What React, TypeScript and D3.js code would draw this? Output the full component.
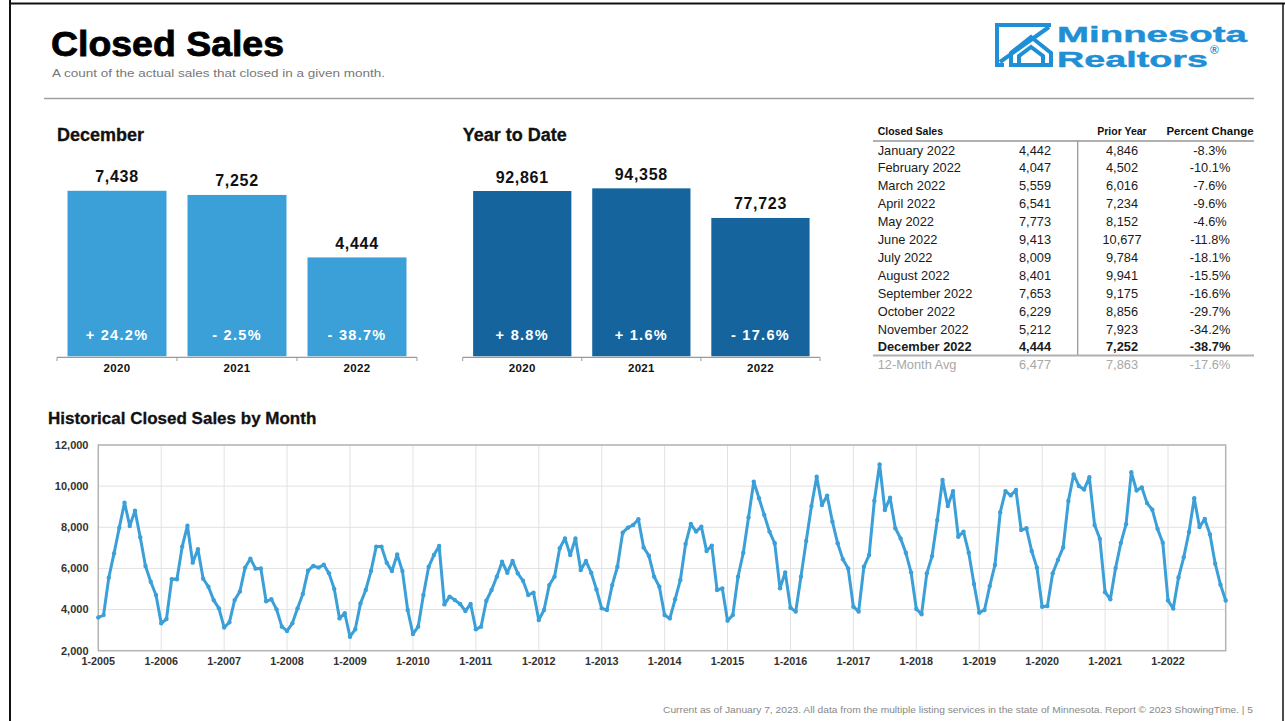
import React from 'react';
import * as d3 from 'd3';

const FONT = "'Liberation Sans', Arial, Helvetica, sans-serif";
const BLUE_LIGHT = '#3b9fd8';
const BLUE_DARK = '#15649e';
const LOGO_BLUE = '#1f8fd6';

// ---- bar panels ----
const barYears = ['2020', '2021', '2022'];
const decemberValues = [7438, 7252, 4444];
const decemberChanges = ['+ 24.2%', '- 2.5%', '- 38.7%'];
const ytdValues = [92861, 94358, 77723];
const ytdChanges = ['+ 8.8%', '+ 1.6%', '- 17.6%'];

// ---- table ----
const tableMonths = ['January 2022', 'February 2022', 'March 2022', 'April 2022', 'May 2022', 'June 2022', 'July 2022', 'August 2022', 'September 2022', 'October 2022', 'November 2022', 'December 2022'];
const tableCurrent = [4442, 4047, 5559, 6541, 7773, 9413, 8009, 8401, 7653, 6229, 5212, 4444];
const tablePrior = [4846, 4502, 6016, 7234, 8152, 10677, 9784, 9941, 9175, 8856, 7923, 7252];
const tablePercent = ['-8.3%', '-10.1%', '-7.6%', '-9.6%', '-4.6%', '-11.8%', '-18.1%', '-15.5%', '-16.6%', '-29.7%', '-34.2%', '-38.7%'];
const avgLabel = '12-Month Avg';
const avgCurrent = 6477;
const avgPrior = 7863;
const avgPercent = '-17.6%';

// ---- historical monthly closed sales ----
const historyStartYear = 2005;
const h2005 = [3620, 3730, 5550, 6730, 7980, 9200, 8060, 8810, 7510, 6120, 5350, 4710];
const h2006 = [3330, 3540, 5480, 5470, 7060, 8080, 6280, 6930, 5500, 5110, 4460, 4060];
const h2007 = [3130, 3380, 4460, 4880, 6040, 6470, 5990, 6000, 4400, 4500, 4010, 3170];
const h2008 = [2960, 3330, 4060, 4760, 5890, 6120, 6040, 6180, 5760, 5000, 3570, 3820];
const h2009 = [2680, 3040, 4300, 4950, 5870, 7060, 7060, 6280, 5870, 6680, 5870, 3980];
const h2010 = [2810, 3170, 4710, 6080, 6650, 7090, 4250, 4630, 4460, 4270, 3930, 4270];
const h2011 = [3040, 3170, 4430, 4950, 5600, 6330, 5790, 6360, 5760, 5400, 4710, 4820];
const h2012 = [3490, 3980, 5190, 5600, 6980, 7460, 6650, 7460, 5920, 6360, 5790, 4980];
const h2013 = [4060, 3980, 5190, 6080, 7740, 7980, 8110, 8390, 7020, 6620, 5600, 5110];
const h2014 = [3730, 3570, 4500, 5440, 7190, 8160, 7790, 8030, 6850, 7110, 4950, 5030];
const h2015 = [3460, 3730, 5600, 6760, 8480, 10220, 9410, 8600, 7790, 7220, 5030, 5810];
const h2016 = [4090, 3900, 5600, 7330, 9030, 10460, 9080, 9540, 8270, 7220, 6440, 6000];
const h2017 = [4140, 3900, 6080, 6650, 9290, 11060, 8840, 9440, 7950, 7460, 6760, 5810];
const h2018 = [4030, 3770, 5760, 6600, 8350, 10300, 9030, 9760, 7540, 7790, 6760, 5240];
const h2019 = [3850, 3980, 5140, 6170, 8730, 9760, 9550, 9810, 7870, 7950, 6850, 6040];
const h2020 = [4140, 4170, 5760, 6410, 7020, 9280, 10570, 10010, 9840, 10430, 8110, 7438];
const h2021 = tablePrior;
const h2022 = tableCurrent;
const historyValues = [
  ...h2005, ...h2006, ...h2007, ...h2008, ...h2009, ...h2010, ...h2011, ...h2012, ...h2013,
  ...h2014, ...h2015, ...h2016, ...h2017, ...h2018, ...h2019, ...h2020, ...h2021, ...h2022,
];
const historyYTicks = [2000, 4000, 6000, 8000, 10000, 12000];
const historyXTickYears = d3.range(2005, 2023);

const fmt = d3.format(',');

function BarPanel({ title, left, right, values, changes, yMax, color }: any) {
  const x = d3.scaleBand<string>().domain(barYears).range([left, right]).paddingInner(0.175).paddingOuter(0.0875);
  const y = d3.scaleLinear().domain([0, yMax]).range([356.3, 178.3]);
  const step = x.step();
  const bounds = [0, 1, 2, 3].map((i) => left + i * step);
  return (
    <g>
      <text x={left} y={141} fontFamily={FONT} fontWeight={700} fontSize={18} fill="#111" stroke="#111" strokeWidth={0.3}>{title}</text>
      {values.map((v: number, i: number) => {
        const bx = x(barYears[i])!;
        const cx = bx + x.bandwidth() / 2;
        return (
          <g key={i}>
            <rect x={bx} y={y(v)} width={x.bandwidth()} height={y(0) - y(v)} fill={color} />
            <text x={cx} y={y(v) - 8.5} textAnchor="middle" fontFamily={FONT} fontWeight={700} fontSize={16} letterSpacing={0.7} fill="#111">{fmt(v)}</text>
            <text x={cx} y={340} textAnchor="middle" fontFamily={FONT} fontWeight={700} fontSize={14.5} letterSpacing={1.3} fill="#fff">{changes[i]}</text>
            <text x={cx} y={372} textAnchor="middle" fontFamily={FONT} fontWeight={700} fontSize={11.5} letterSpacing={0.3} fill="#111">{barYears[i]}</text>
          </g>
        );
      })}
      <line x1={left} x2={right} y1={357.3} y2={357.3} stroke="#9a9a9a" strokeWidth={1.2} />
      {bounds.map((b, i) => (
        <line key={i} x1={b} x2={b} y1={357.3} y2={361} stroke="#9a9a9a" strokeWidth={1} />
      ))}
    </g>
  );
}

function SalesTable() {
  const rowY = (i: number) => 154.5 + i * 17.9;
  const c1 = 877.7, c2 = 1035, c3 = 1122, c4 = 1210;
  const base = { fontFamily: FONT, fontSize: 12.8, fill: '#1a1a1a' };
  return (
    <g>
      <text x={c1} y={135} fontFamily={FONT} fontWeight={700} fontSize={10.5} fill="#111">Closed Sales</text>
      <text x={c3} y={135} textAnchor="middle" fontFamily={FONT} fontWeight={700} fontSize={10.5} fill="#111">Prior Year</text>
      <text x={c4} y={135} textAnchor="middle" fontFamily={FONT} fontWeight={700} fontSize={10.5} fill="#111" textLength={87} lengthAdjust="spacingAndGlyphs">Percent Change</text>
      <line x1={873} x2={1254} y1={141} y2={141} stroke="#b0b0b0" strokeWidth={2} />
      <line x1={1077.7} x2={1077.7} y1={141} y2={355} stroke="#9a9a9a" strokeWidth={1.3} />
      {tableMonths.map((m, i) => {
        const bold = i === tableMonths.length - 1 ? 700 : 400;
        return (
          <g key={m}>
            <text x={c1} y={rowY(i)} {...base} fontWeight={bold}>{m}</text>
            <text x={c2} y={rowY(i)} textAnchor="middle" {...base} fontWeight={bold}>{fmt(tableCurrent[i])}</text>
            <text x={c3} y={rowY(i)} textAnchor="middle" {...base} fontWeight={bold}>{fmt(tablePrior[i])}</text>
            <text x={c4} y={rowY(i)} textAnchor="middle" {...base} fontWeight={bold}>{tablePercent[i]}</text>
          </g>
        );
      })}
      <line x1={873} x2={1254} y1={355.5} y2={355.5} stroke="#b0b0b0" strokeWidth={2} />
      <g fill="#a8a8a8" fontFamily={FONT} fontSize={12.8}>
        <text x={c1} y={369}>{avgLabel}</text>
        <text x={c2} y={369} textAnchor="middle">{fmt(avgCurrent)}</text>
        <text x={c3} y={369} textAnchor="middle">{fmt(avgPrior)}</text>
        <text x={c4} y={369} textAnchor="middle">{avgPercent}</text>
      </g>
    </g>
  );
}

function HistoryChart() {
  const x0 = 98.3, x1 = 1225.7, yTop = 445, yBot = 650.7;
  const x = d3.scaleLinear().domain([0, historyValues.length - 1]).range([x0, x1]);
  const y = d3.scaleLinear().domain([2000, 12000]).range([yBot, yTop]);
  const line = d3.line<number>().x((_, i) => x(i)).y((d) => y(d));
  return (
    <g>
      <text x={48} y={424} fontFamily={FONT} fontWeight={700} fontSize={17} fill="#111" stroke="#111" strokeWidth={0.3}>Historical Closed Sales by Month</text>
      <rect x={x0} y={yTop} width={x1 - x0} height={yBot - yTop} fill="#fff" />
      {historyYTicks.map((t) => (
        <g key={t}>
          <line x1={x0} x2={x1} y1={y(t)} y2={y(t)} stroke="#e2e2e2" strokeWidth={1} />
          <text x={88.5} y={y(t) + 3.8} textAnchor="end" fontFamily={FONT} fontWeight={700} fontSize={11} fill="#333">{fmt(t)}</text>
        </g>
      ))}
      {historyXTickYears.map((yr) => {
        const xi = x((yr - historyStartYear) * 12);
        return (
          <g key={yr}>
            <line x1={xi} x2={xi} y1={yTop} y2={yBot} stroke="#e2e2e2" strokeWidth={1} />
            <text x={xi} y={665} textAnchor="middle" fontFamily={FONT} fontWeight={700} fontSize={10.8} fill="#333">{`1-${yr}`}</text>
          </g>
        );
      })}
      <rect x={x0} y={yTop} width={x1 - x0} height={yBot - yTop} fill="none" stroke="#b4b4b4" strokeWidth={1.5} />
      <path d={line(historyValues) || ''} fill="none" stroke={BLUE_LIGHT} strokeWidth={3} strokeLinejoin="round" />
      {historyValues.map((v, i) => (
        <circle key={i} cx={x(i)} cy={y(v)} r={2.2} fill={BLUE_LIGHT} />
      ))}
    </g>
  );
}

function Logo() {
  return (
    <g>
      <g fill="none" stroke={LOGO_BLUE} strokeWidth={4} strokeLinejoin="miter">
        <path d="M1051,25 L997,25 L997,65 L1004,65" />
        <path d="M1049,27 L1000,62" />
        <path d="M1011,65 L1011,53 L1031,37 L1051,53 L1051,65 Z" />
        <path d="M1019,65 L1019,56 L1031,47 L1043,56 L1043,65" />
      </g>
      <text x={1057} y={41.5} fontFamily={FONT} fontWeight={700} fontSize={22} fill={LOGO_BLUE} stroke={LOGO_BLUE} strokeWidth={0.4} textLength={190} lengthAdjust="spacingAndGlyphs">Minnesota</text>
      <text x={1057} y={66.5} fontFamily={FONT} fontWeight={700} fontSize={22} fill={LOGO_BLUE} stroke={LOGO_BLUE} strokeWidth={0.4} textLength={151} lengthAdjust="spacingAndGlyphs">Realtors</text>
      <text x={1210} y={54} fontFamily={FONT} fontWeight={700} fontSize={12} fill={LOGO_BLUE}>®</text>
    </g>
  );
}

export default function App() {
  return (
    <svg width={1285} height={721} viewBox="0 0 1285 721" style={{ position: 'absolute', left: 0, top: 0, background: '#fff' }}>
      <rect x={0} y={0} width={1285} height={721} fill="#fff" />
      <line x1={10} x2={10} y1={0} y2={721} stroke="#111" strokeWidth={2} />
      <line x1={9} x2={1285} y1={3.5} y2={3.5} stroke="#111" strokeWidth={2} />
      <line x1={1283} x2={1283} y1={3} y2={721} stroke="#111" strokeWidth={1.5} />

      <text x={51} y={56} fontFamily={FONT} fontWeight={900} fontSize={35} fill="#000" stroke="#000" strokeWidth={0.8} textLength={233} lengthAdjust="spacingAndGlyphs">Closed Sales</text>
      <text x={52} y={76.5} fontFamily={FONT} fontSize={11.5} fill="#777" textLength={333} lengthAdjust="spacingAndGlyphs">A count of the actual sales that closed in a given month.</text>
      <line x1={44} x2={1254} y1={98.5} y2={98.5} stroke="#a0a0a0" strokeWidth={1.6} />
      <Logo />

      <BarPanel title="December" left={57} right={417} values={decemberValues} changes={decemberChanges} yMax={8000} color={BLUE_LIGHT} />
      <BarPanel title="Year to Date" left={462.7} right={820} values={ytdValues} changes={ytdChanges} yMax={100000} color={BLUE_DARK} />
      <SalesTable />
      <HistoryChart />

      <text x={1253} y={713} textAnchor="end" fontFamily={FONT} fontSize={8.8} fill="#888" textLength={590} lengthAdjust="spacingAndGlyphs">Current as of January 7, 2023. All data from the multiple listing services in the state of Minnesota. Report © 2023 ShowingTime.  |  5</text>
    </svg>
  );
}
